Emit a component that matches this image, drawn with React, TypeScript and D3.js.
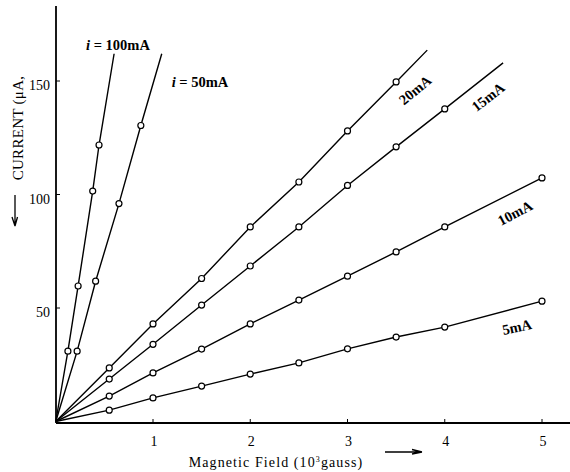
import React, { useRef, useEffect } from "react"
import * as d3 from "d3"

// field in 10^3 gauss, current in microampere
const field100 = [0.125, 0.23, 0.38, 0.445]
const current100 = [31, 59.7, 101.5, 121.8]
const end100 = [0.6, 162]

const field50 = [0.22, 0.41, 0.65, 0.875]
const current50 = [31, 61.8, 96, 130.4]
const end50 = [1.09, 162]

const field20 = [0.55, 1, 1.5, 2, 2.5, 3, 3.5]
const current20 = [23.6, 43, 63, 85.7, 105.5, 128, 149.6]
const end20 = [3.82, 163.6]

const field15 = [0.55, 1, 1.5, 2, 2.5, 3, 3.5, 4]
const current15 = [18.7, 34, 51.3, 68.5, 85.7, 104, 121, 137.7]
const end15 = [4.6, 158]

const field10 = [0.55, 1, 1.5, 2, 2.5, 3, 3.5, 4, 5]
const current10 = [11.2, 21.4, 31.9, 43, 53.5, 64, 74.7, 85.7, 107.3]

const field5 = [0.55, 1, 1.5, 2, 2.5, 3, 3.5, 4, 5]
const current5 = [5, 10.4, 15.6, 20.9, 25.8, 32, 37.2, 41.6, 53]

const xTicks = [1, 2, 3, 4, 5]
const yTicks = [50, 100, 150]

const series = [
  { name: "100", field: field100, current: current100, end: end100 },
  { name: "50", field: field50, current: current50, end: end50 },
  { name: "20", field: field20, current: current20, end: end20 },
  { name: "15", field: field15, current: current15, end: end15 },
  { name: "10", field: field10, current: current10, end: null },
  { name: "5", field: field5, current: current5, end: null },
]

const W = 570
const H = 472
const FONT = "'Liberation Serif', 'DejaVu Serif', serif"

const Chart: React.FC = () => {
  const svgRef = useRef<SVGSVGElement | null>(null)

  useEffect(() => {
    if (!svgRef.current) return
    const svg = d3.select(svgRef.current)
    svg.selectAll("*").remove()

    const x = d3.scaleLinear().domain([0, 5]).range([55.75, 542])
    const y = d3.scaleLinear().domain([0, 150]).range([421.5, 81])

    const axisY = 423
    const axisX = 56

    // axes
    svg.append("line")
      .attr("x1", axisX).attr("x2", axisX).attr("y1", 6).attr("y2", axisY)
      .attr("stroke", "#000").attr("stroke-width", 1.8)
    svg.append("line")
      .attr("x1", axisX).attr("x2", W).attr("y1", axisY).attr("y2", axisY)
      .attr("stroke", "#000").attr("stroke-width", 2)

    // ticks
    svg.selectAll(".xt").data(xTicks).enter().append("line")
      .attr("x1", (d) => x(d)).attr("x2", (d) => x(d))
      .attr("y1", axisY).attr("y2", axisY - 4)
      .attr("stroke", "#000").attr("stroke-width", 1)
    svg.selectAll(".xl").data(xTicks).enter().append("text")
      .attr("x", (d) => x(d) + 1).attr("y", axisY + 23)
      .attr("text-anchor", "middle")
      .attr("font-family", FONT).attr("font-size", 14)
      .text((d) => d)
    svg.selectAll(".yt").data(yTicks).enter().append("line")
      .attr("x1", axisX).attr("x2", axisX + 4)
      .attr("y1", (d) => y(d)).attr("y2", (d) => y(d))
      .attr("stroke", "#000").attr("stroke-width", 1)
    svg.selectAll(".yl").data(yTicks).enter().append("text")
      .attr("x", axisX - 6).attr("y", (d) => y(d) + 9)
      .attr("text-anchor", "end")
      .attr("font-family", FONT).attr("font-size", 14)
      .text((d) => d)

    const line = d3.line<[number, number]>()
      .x((d) => x(d[0]))
      .y((d) => y(d[1]))

    series.forEach((s) => {
      const pts: [number, number][] = [[0, 0]]
      s.field.forEach((f, i) => pts.push([f, s.current[i]]))
      if (s.end) pts.push([s.end[0], s.end[1]])
      svg.append("path")
        .attr("d", line(pts))
        .attr("fill", "none").attr("stroke", "#000").attr("stroke-width", 1.4)
      svg.selectAll(null).data(s.field).enter().append("circle")
        .attr("cx", (f) => x(f))
        .attr("cy", (_, i) => y(s.current[i]))
        .attr("r", 3)
        .attr("fill", "#fff").attr("stroke", "#000").attr("stroke-width", 1.2)
    })

    // series labels
    const lbl = (tx: number, ty: number, rot: number, txt: string, italicI = false) => {
      const t = svg.append("text")
        .attr("transform", `translate(${tx},${ty}) rotate(${rot})`)
        .attr("text-anchor", "middle").attr("dominant-baseline", "central")
        .attr("font-family", FONT).attr("font-size", 14.5).attr("font-weight", "bold")
      if (italicI) {
        t.append("tspan").attr("font-style", "italic").text("i")
        t.append("tspan").text(" = " + txt)
      } else t.text(txt)
    }
    lbl(118, 45, 0, "100mA", true)
    lbl(200, 82, 0, "50mA", true)
    lbl(415, 90, -40, "20mA")
    lbl(488, 97, -38, "15mA")
    lbl(515, 213, -28, "10mA")
    lbl(517, 327, -12, "5mA")

    // y label
    svg.append("text")
      .attr("transform", "translate(23,128) rotate(-90)")
      .attr("text-anchor", "middle")
      .attr("font-family", FONT).attr("font-size", 15)
      .attr("letter-spacing", 0.3)
      .text("CURRENT (μA,")
    svg.append("path")
      .attr("d", "M15,195 L15,226 M15,226 L12,217 M15,226 L17.5,217")
      .attr("fill", "none").attr("stroke", "#000").attr("stroke-width", 1.3)

    // x label
    const xl = svg.append("text")
      .attr("x", 276).attr("y", 467)
      .attr("text-anchor", "middle")
      .attr("font-family", FONT).attr("font-size", 14)
      .attr("letter-spacing", 1.1)
    xl.append("tspan").text("Magnetic Field (10")
    xl.append("tspan").attr("font-size", 8).attr("dy", -5).text("3")
    xl.append("tspan").attr("dy", 5).text("gauss)")
    svg.append("path")
      .attr("d", "M385,452 L422,452 M422,452 L412,449.5 M422,452 L412,454")
      .attr("fill", "none").attr("stroke", "#000").attr("stroke-width", 1.4)
  }, [])

  return (
    <svg ref={svgRef} width={W} height={H}
      style={{ position: "absolute", left: 0, top: 0, background: "#fff" }} />
  )
}

export default function App() {
  return <Chart />
}
